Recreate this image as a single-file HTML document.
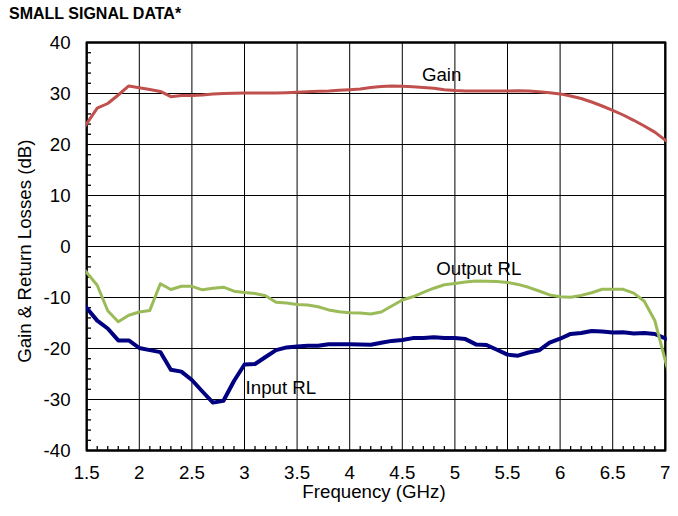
<!DOCTYPE html>
<html><head><meta charset="utf-8"><style>
html,body{margin:0;padding:0;background:#fff;}
body{width:678px;height:516px;overflow:hidden;}
svg{display:block;}
text{font-family:"Liberation Sans",sans-serif;font-size:18.7px;fill:#000;}
</style></head><body>
<svg width="678" height="516" viewBox="0 0 678 516">
<rect width="678" height="516" fill="#fff"/>
<text x="9" y="19.2" style="font-weight:bold;font-size:16px">SMALL SIGNAL DATA*</text>
<g stroke="#000" stroke-width="1" fill="none">
<line x1="139.30" y1="42.5" x2="139.30" y2="450.5"/>
<line x1="191.90" y1="42.5" x2="191.90" y2="450.5"/>
<line x1="244.50" y1="42.5" x2="244.50" y2="450.5"/>
<line x1="297.10" y1="42.5" x2="297.10" y2="450.5"/>
<line x1="349.70" y1="42.5" x2="349.70" y2="450.5"/>
<line x1="402.30" y1="42.5" x2="402.30" y2="450.5"/>
<line x1="454.90" y1="42.5" x2="454.90" y2="450.5"/>
<line x1="507.50" y1="42.5" x2="507.50" y2="450.5"/>
<line x1="560.10" y1="42.5" x2="560.10" y2="450.5"/>
<line x1="612.70" y1="42.5" x2="612.70" y2="450.5"/>
<line x1="86.7" y1="399.50" x2="665.3" y2="399.50"/>
<line x1="86.7" y1="348.50" x2="665.3" y2="348.50"/>
<line x1="86.7" y1="297.50" x2="665.3" y2="297.50"/>
<line x1="86.7" y1="246.50" x2="665.3" y2="246.50"/>
<line x1="86.7" y1="195.50" x2="665.3" y2="195.50"/>
<line x1="86.7" y1="144.50" x2="665.3" y2="144.50"/>
<line x1="86.7" y1="93.50" x2="665.3" y2="93.50"/>
</g>
<g stroke="#000" stroke-width="1.3" fill="none">
<line x1="86.7" y1="440.30" x2="91" y2="440.30"/>
<line x1="86.7" y1="430.10" x2="91" y2="430.10"/>
<line x1="86.7" y1="419.90" x2="91" y2="419.90"/>
<line x1="86.7" y1="409.70" x2="91" y2="409.70"/>
<line x1="86.7" y1="389.30" x2="91" y2="389.30"/>
<line x1="86.7" y1="379.10" x2="91" y2="379.10"/>
<line x1="86.7" y1="368.90" x2="91" y2="368.90"/>
<line x1="86.7" y1="358.70" x2="91" y2="358.70"/>
<line x1="86.7" y1="338.30" x2="91" y2="338.30"/>
<line x1="86.7" y1="328.10" x2="91" y2="328.10"/>
<line x1="86.7" y1="317.90" x2="91" y2="317.90"/>
<line x1="86.7" y1="307.70" x2="91" y2="307.70"/>
<line x1="86.7" y1="287.30" x2="91" y2="287.30"/>
<line x1="86.7" y1="277.10" x2="91" y2="277.10"/>
<line x1="86.7" y1="266.90" x2="91" y2="266.90"/>
<line x1="86.7" y1="256.70" x2="91" y2="256.70"/>
<line x1="86.7" y1="236.30" x2="91" y2="236.30"/>
<line x1="86.7" y1="226.10" x2="91" y2="226.10"/>
<line x1="86.7" y1="215.90" x2="91" y2="215.90"/>
<line x1="86.7" y1="205.70" x2="91" y2="205.70"/>
<line x1="86.7" y1="185.30" x2="91" y2="185.30"/>
<line x1="86.7" y1="175.10" x2="91" y2="175.10"/>
<line x1="86.7" y1="164.90" x2="91" y2="164.90"/>
<line x1="86.7" y1="154.70" x2="91" y2="154.70"/>
<line x1="86.7" y1="134.30" x2="91" y2="134.30"/>
<line x1="86.7" y1="124.10" x2="91" y2="124.10"/>
<line x1="86.7" y1="113.90" x2="91" y2="113.90"/>
<line x1="86.7" y1="103.70" x2="91" y2="103.70"/>
<line x1="86.7" y1="83.30" x2="91" y2="83.30"/>
<line x1="86.7" y1="73.10" x2="91" y2="73.10"/>
<line x1="86.7" y1="62.90" x2="91" y2="62.90"/>
<line x1="86.7" y1="52.70" x2="91" y2="52.70"/>
<line x1="97.22" y1="450.5" x2="97.22" y2="446" />
<line x1="107.74" y1="450.5" x2="107.74" y2="446" />
<line x1="118.26" y1="450.5" x2="118.26" y2="446" />
<line x1="128.78" y1="450.5" x2="128.78" y2="446" />
<line x1="149.82" y1="450.5" x2="149.82" y2="446" />
<line x1="160.34" y1="450.5" x2="160.34" y2="446" />
<line x1="170.86" y1="450.5" x2="170.86" y2="446" />
<line x1="181.38" y1="450.5" x2="181.38" y2="446" />
<line x1="202.42" y1="450.5" x2="202.42" y2="446" />
<line x1="212.94" y1="450.5" x2="212.94" y2="446" />
<line x1="223.46" y1="450.5" x2="223.46" y2="446" />
<line x1="233.98" y1="450.5" x2="233.98" y2="446" />
<line x1="255.02" y1="450.5" x2="255.02" y2="446" />
<line x1="265.54" y1="450.5" x2="265.54" y2="446" />
<line x1="276.06" y1="450.5" x2="276.06" y2="446" />
<line x1="286.58" y1="450.5" x2="286.58" y2="446" />
<line x1="307.62" y1="450.5" x2="307.62" y2="446" />
<line x1="318.14" y1="450.5" x2="318.14" y2="446" />
<line x1="328.66" y1="450.5" x2="328.66" y2="446" />
<line x1="339.18" y1="450.5" x2="339.18" y2="446" />
<line x1="360.22" y1="450.5" x2="360.22" y2="446" />
<line x1="370.74" y1="450.5" x2="370.74" y2="446" />
<line x1="381.26" y1="450.5" x2="381.26" y2="446" />
<line x1="391.78" y1="450.5" x2="391.78" y2="446" />
<line x1="412.82" y1="450.5" x2="412.82" y2="446" />
<line x1="423.34" y1="450.5" x2="423.34" y2="446" />
<line x1="433.86" y1="450.5" x2="433.86" y2="446" />
<line x1="444.38" y1="450.5" x2="444.38" y2="446" />
<line x1="465.42" y1="450.5" x2="465.42" y2="446" />
<line x1="475.94" y1="450.5" x2="475.94" y2="446" />
<line x1="486.46" y1="450.5" x2="486.46" y2="446" />
<line x1="496.98" y1="450.5" x2="496.98" y2="446" />
<line x1="518.02" y1="450.5" x2="518.02" y2="446" />
<line x1="528.54" y1="450.5" x2="528.54" y2="446" />
<line x1="539.06" y1="450.5" x2="539.06" y2="446" />
<line x1="549.58" y1="450.5" x2="549.58" y2="446" />
<line x1="570.62" y1="450.5" x2="570.62" y2="446" />
<line x1="581.14" y1="450.5" x2="581.14" y2="446" />
<line x1="591.66" y1="450.5" x2="591.66" y2="446" />
<line x1="602.18" y1="450.5" x2="602.18" y2="446" />
<line x1="623.22" y1="450.5" x2="623.22" y2="446" />
<line x1="633.74" y1="450.5" x2="633.74" y2="446" />
<line x1="644.26" y1="450.5" x2="644.26" y2="446" />
<line x1="654.78" y1="450.5" x2="654.78" y2="446" />
</g>
<g>
<text x="70.6" y="457.00" text-anchor="end">-40</text>
<text x="70.6" y="406.00" text-anchor="end">-30</text>
<text x="70.6" y="355.00" text-anchor="end">-20</text>
<text x="70.6" y="304.00" text-anchor="end">-10</text>
<text x="70.6" y="253.00" text-anchor="end">0</text>
<text x="70.6" y="202.00" text-anchor="end">10</text>
<text x="70.6" y="151.00" text-anchor="end">20</text>
<text x="70.6" y="100.00" text-anchor="end">30</text>
<text x="70.6" y="49.00" text-anchor="end">40</text>
<text x="86.70" y="478.6" text-anchor="middle">1.5</text>
<text x="139.30" y="478.6" text-anchor="middle">2</text>
<text x="191.90" y="478.6" text-anchor="middle">2.5</text>
<text x="244.50" y="478.6" text-anchor="middle">3</text>
<text x="297.10" y="478.6" text-anchor="middle">3.5</text>
<text x="349.70" y="478.6" text-anchor="middle">4</text>
<text x="402.30" y="478.6" text-anchor="middle">4.5</text>
<text x="454.90" y="478.6" text-anchor="middle">5</text>
<text x="507.50" y="478.6" text-anchor="middle">5.5</text>
<text x="560.10" y="478.6" text-anchor="middle">6</text>
<text x="612.70" y="478.6" text-anchor="middle">6.5</text>
<text x="665.30" y="478.6" text-anchor="middle">7</text>
</g>
<text transform="translate(421.9,80.8) scale(1,1.0)">Gain</text>
<text transform="translate(436.2,275.4) scale(1,1.0)">Output RL</text>
<text transform="translate(245.6,393.5) scale(1,1.0)">Input RL</text>
<text transform="translate(374,497.7) scale(1,1.0)" text-anchor="middle">Frequency (GHz)</text>
<text transform="translate(31.3,251.15) rotate(-90) scale(1,1.0)" text-anchor="middle">Gain &amp; Return Losses (dB)</text>
<rect x="86.7" y="42.5" width="578.6" height="408" fill="none" stroke="#000" stroke-width="2.4" stroke-linejoin="round"/>
<defs><clipPath id="pc"><rect x="85.9" y="30" width="580.8" height="430"/></clipPath></defs>
<g fill="none" stroke-linejoin="round" stroke-linecap="butt" clip-path="url(#pc)">
<polyline points="83.70,128.02 86.70,123.60 97.22,108.10 107.74,103.50 118.26,95.00 128.78,85.90 139.30,87.80 149.82,89.60 160.34,91.40 170.86,96.70 181.38,95.60 191.90,95.50 202.42,95.10 212.94,94.10 223.46,93.50 233.98,93.20 244.50,93.00 255.02,92.90 265.54,93.00 276.06,93.10 286.58,92.80 297.10,92.30 307.62,91.80 318.14,91.30 328.66,91.00 339.18,90.30 349.70,89.70 360.22,88.90 370.74,87.60 381.26,86.60 391.78,86.00 402.30,86.30 412.82,86.80 423.34,87.50 433.86,88.30 444.38,89.70 454.90,90.50 465.42,90.90 475.94,91.10 486.46,91.10 496.98,91.00 507.50,90.90 518.02,90.80 528.54,91.00 539.06,91.70 549.58,92.70 560.10,93.90 570.62,96.00 581.14,98.50 591.66,102.00 602.18,106.00 612.70,110.40 623.22,115.00 633.74,120.30 644.26,126.00 654.78,132.10 665.30,140.10 668.30,142.38" stroke="#C0504D" stroke-width="3"/>
<polyline points="83.70,304.41 86.70,308.00 97.22,320.60 107.74,328.50 118.26,340.40 128.78,340.40 139.30,348.00 149.82,350.10 160.34,352.10 170.86,369.80 181.38,371.60 191.90,380.00 202.42,391.50 212.94,402.60 223.46,400.80 233.98,381.00 244.50,364.50 255.02,364.00 265.54,357.00 276.06,350.10 286.58,347.40 297.10,346.50 307.62,345.70 318.14,345.70 328.66,344.20 339.18,344.20 349.70,344.20 360.22,344.50 370.74,344.80 381.26,342.70 391.78,340.90 402.30,340.00 412.82,338.10 423.34,338.10 433.86,337.20 444.38,338.10 454.90,338.10 465.42,339.10 475.94,344.40 486.46,345.00 496.98,349.80 507.50,354.60 518.02,355.70 528.54,352.50 539.06,350.40 549.58,342.70 560.10,338.70 570.62,333.90 581.14,333.00 591.66,331.00 602.18,331.50 612.70,332.60 623.22,332.30 633.74,333.40 644.26,333.00 654.78,334.00 665.30,338.30 668.30,339.53" stroke="#000080" stroke-width="4"/>
<polyline points="83.70,268.88 86.70,272.50 97.22,285.20 107.74,310.80 118.26,321.70 128.78,315.30 139.30,312.00 149.82,310.40 160.34,283.70 170.86,289.50 181.38,286.20 191.90,286.30 202.42,289.80 212.94,288.20 223.46,287.20 233.98,291.20 244.50,292.50 255.02,293.50 265.54,295.70 276.06,302.20 286.58,303.10 297.10,304.50 307.62,304.90 318.14,306.80 328.66,309.90 339.18,311.80 349.70,312.70 360.22,313.10 370.74,313.90 381.26,312.00 391.78,306.00 402.30,300.00 412.82,296.80 423.34,292.40 433.86,288.20 444.38,284.80 454.90,283.50 465.42,282.10 475.94,280.90 486.46,281.20 496.98,281.60 507.50,282.50 518.02,284.40 528.54,287.30 539.06,291.00 549.58,294.90 560.10,296.70 570.62,297.20 581.14,295.40 591.66,292.70 602.18,289.30 612.70,289.30 623.22,289.30 633.74,293.10 644.26,301.30 654.78,320.50 665.30,360.70 668.30,372.16" stroke="#9BBB59" stroke-width="3"/>
</g>
</svg>
</body></html>
